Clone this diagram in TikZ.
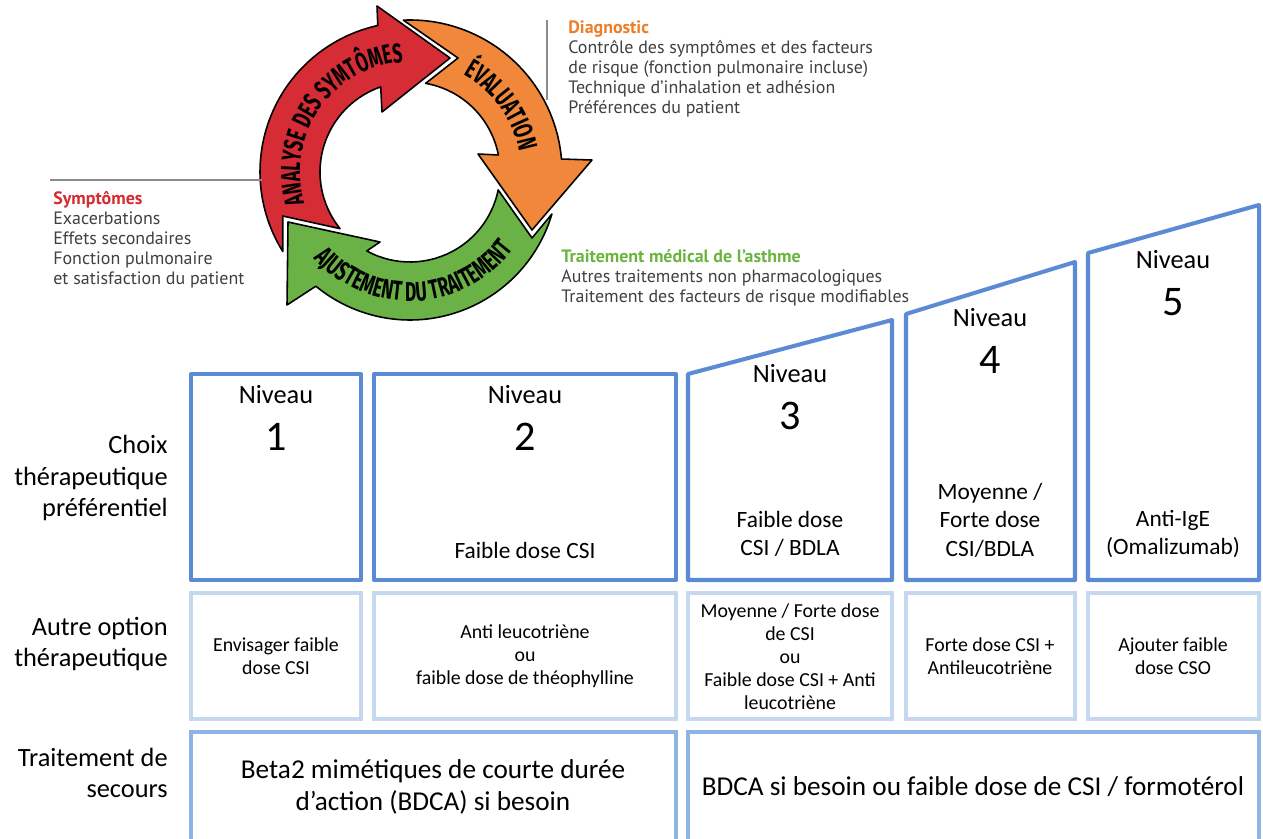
\documentclass[tikz,border=0pt]{standalone}
\usepackage{fontspec}
\setmainfont{Carlito}
\newfontfamily\notefont{PT Sans}
\newfontfamily\cyclefont[FakeStretch=0.64]{Fira Sans}
\usetikzlibrary{positioning, decorations.text}

\definecolor{lvlblue}{HTML}{5B8BD5}
\definecolor{altblue}{HTML}{C6D8F0}
\definecolor{secblue}{HTML}{8EB4E3}
\definecolor{arrred}{HTML}{D62C36}
\definecolor{arrorange}{HTML}{F0873A}
\definecolor{arrgreen}{HTML}{6AB245}
\definecolor{notegray}{HTML}{404040}
\definecolor{titleorange}{HTML}{EE7D2A}
\definecolor{titlered}{HTML}{D42A30}
\definecolor{titlegreen}{HTML}{6BB43F}
\definecolor{leadgray}{HTML}{8C8C8C}

\newcommand{\arctext}{\cyclefont\bfseries\fontsize{15.5}{15.5}\selectfont}

\begin{document}
\begin{tikzpicture}[x=0.02cm, y=0.02cm,
	% boxes of the table
	lvlbox/.style={draw=lvlblue, line width=2.3pt, line join=round},
	altbox/.style={draw=altblue, line width=2.3pt},
	secbox/.style={draw=secblue, line width=2.3pt},
	% texts of the table
	rowlabel/.style={align=right, anchor=east, inner sep=0pt, font=\fontsize{15}{18}\selectfont},
	nivtxt/.style={font=\fontsize{15}{18}\selectfont},
	numtxt/.style={font=\fontsize{24}{28}\selectfont},
	choicetxt/.style={align=center, font=\fontsize{13.3}{16.2}\selectfont},
	alttxt/.style={align=center, font=\fontsize{11.3}{13.1}\selectfont},
	sectxt/.style={align=center, font=\fontsize{15.5}{18.2}\selectfont},
	% cycle and notes
	cyclearrow/.style={draw=black, line width=0.9pt, line join=round},
	notetxt/.style={align=left, anchor=north west, inner sep=0pt, text=notegray, font=\notefont\fontsize{10.2}{11.4}\selectfont},
	leadline/.style={draw=leadgray, line width=0.8pt}]
	
	\useasboundingbox (0,0) rectangle (1263,-838);
	\clip (0,0) rectangle (1263,-838);
	\fill[white] (0,0) rectangle (1263,-838);
	
	% Cycle of the three arrows
	\begin{scope}[shift={(410,-172)}]
		\filldraw[cyclearrow, fill=arrred] (212:150) arc[start angle=212, end angle=102.4, radius=150] -- (-33,166) -- (40,114) -- (-28,60) -- (109:90) arc[start angle=109, end angle=219, radius=90] -- (-127.3,-44) -- cycle;
		\filldraw[cyclearrow, fill=arrorange] (92.5:152) arc[start angle=92.5, end angle=4.9, radius=152] -- (182,12) -- (122,-58) -- (68,18) -- (10.9:90) arc[start angle=10.9, end angle=80, radius=90] -- (48,114) -- cycle;
		\filldraw[cyclearrow, fill=arrgreen] (-16.5:148) arc[start angle=-16.5, end angle=-129.5, radius=148] -- (-123,-133) -- (-122,-50) -- (-30,-70) -- (-118.7:90) arc[start angle=-118.7, end angle=-11.5, radius=90] -- (122,-66) -- cycle;
		
		% Labels along the arrows
		\path[decorate, decoration={text along path, text align=center, text={|\arctext|ANALYSE DES SYMTÔMES}}] (212:110) arc[start angle=212, end angle=78, radius=110];
		\path[decorate, decoration={text along path, text align=center, text={|\arctext|ÉVALUATION}}] (72:111) arc[start angle=72, end angle=0, radius=111];
		\path[decorate, decoration={text along path, text align=center, text={|\arctext|AJUSTEMENT DU TRAITEMENT}}] (200:129) arc[start angle=200, end angle=345, radius=129];
	\end{scope}
	
	% Notes round the cycle
	\node[notetxt] (diag) at (568,-20) {{\bfseries\color{titleorange}Diagnostic}\\Contrôle des symptômes et des facteurs\\de risque (fonction pulmonaire incluse)\\Technique d’inhalation et adhésion\\Préférences du patient};
	\node[notetxt] (symp) at (53,-191) {{\bfseries\color{titlered}Symptômes}\\Exacerbations\\Effets secondaires\\Fonction pulmonaire\\et satisfaction du patient};
	\node[notetxt] (trait) at (561,-249) {{\bfseries\color{titlegreen}Traitement médical de l’asthme}\\Autres traitements non pharmacologiques\\Traitement des facteurs de risque modifiables};
	\draw[leadline] (50,-180) -- (262,-180);
	\draw[leadline] (547,-20) -- (547,-100);
	
	% Row 1: levels
	\draw[lvlbox] (191,-374) rectangle (361,-580);
	\draw[lvlbox] (374,-374) rectangle (676,-580);
	\draw[lvlbox] (688,-374) -- (892,-320) -- (892,-580) -- (688,-580) -- cycle;
	\draw[lvlbox] (906,-314) -- (1075,-262) -- (1075,-580) -- (906,-580) -- cycle;
	\draw[lvlbox] (1088,-253) -- (1259,-205) -- (1259,-580) -- (1088,-580) -- cycle;
	\foreach \i/\x/\y in {1/276/395, 2/525/395, 3/790/374, 4/990/318, 5/1173/260} {
		\node[nivtxt] (niv\i) at (\x,-\y) {Niveau};
		\node[numtxt] (num\i) at (\x,-\y-42) {\i};
	}
	\node[choicetxt] (pref2) at (525,-550) {Faible dose CSI};
	\node[choicetxt] (pref3) at (790,-534) {Faible dose\\CSI / BDLA};
	\node[choicetxt] (pref4) at (990,-520) {Moyenne /\\Forte dose\\CSI/BDLA};
	\node[choicetxt] (pref5) at (1173,-534) {Anti-IgE\\(Omalizumab)};
	
	% Row 2: other options
	\foreach \a/\b in {191/361, 374/676, 688/892, 906/1075, 1088/1259}
		\draw[altbox] (\a,-593) rectangle (\b,-719);
	\node[alttxt] (alt1) at (276,-656) {Envisager faible\\dose CSI};
	\node[alttxt] (alt2) at (525,-656) {Anti leucotriène\\ou\\faible dose de théophylline};
	\node[alttxt] (alt3) at (790,-657) {Moyenne / Forte dose\\de CSI\\ou\\Faible dose CSI + Anti\\leucotriène};
	\node[alttxt] (alt4) at (990,-656) {Forte dose CSI +\\Antileucotriène};
	\node[alttxt] (alt5) at (1173,-656) {Ajouter faible\\dose CSO};
	
	% Row 3: rescue treatment
	\draw[secbox] (191,-732) rectangle (676,-870);
	\draw[secbox] (688,-732) rectangle (1259,-870);
	\node[sectxt] (sec1) at (433,-787) {Beta2 mimétiques de courte durée\\d’action (BDCA) si besoin};
	\node[sectxt] (sec2) at (973,-787) {BDCA si besoin ou faible dose de CSI / formotérol};
	
	% Row labels
	\node[rowlabel] (lab1) at (168,-478) {Choix\\thérapeutique\\préférentiel};
	\node[rowlabel] (lab2) at (168,-644) {Autre option\\thérapeutique};
	\node[rowlabel] (lab3) at (168,-773) {Traitement de\\secours};
\end{tikzpicture}
\end{document}
